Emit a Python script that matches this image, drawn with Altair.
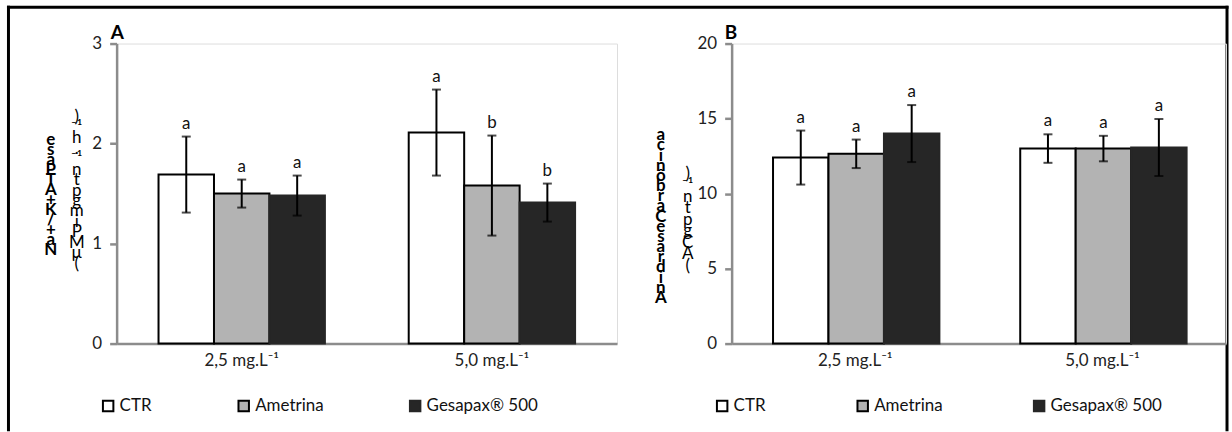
import altair as alt
import pandas as pd

# ---------------- data ----------------
concentrations = ["2,5 mg.L⁻¹", "5,0 mg.L⁻¹"]
treatments = ["CTR", "Ametrina", "Gesapax® 500"]
fill_colors = ["#ffffff", "#b3b3b3", "#262626"]
stroke_colors = ["#000000", "#000000", "#262626"]

# Panel A : Na+/K+ ATPase
a_mean_25 = [1.69, 1.50, 1.48]
a_err_25 = [0.38, 0.14, 0.20]
a_let_25 = ["a", "a", "a"]
a_mean_50 = [2.11, 1.58, 1.41]
a_err_50 = [0.43, 0.50, 0.19]
a_let_50 = ["a", "b", "b"]
a_ticks = [0, 1, 2, 3]

# Panel B : Anidrase Carbônica
b_mean_25 = [12.40, 12.65, 14.00]
b_err_25 = [1.80, 0.95, 1.90]
b_let_25 = ["a", "a", "a"]
b_mean_50 = [13.00, 13.00, 13.07]
b_err_50 = [0.95, 0.85, 1.90]
b_let_50 = ["a", "a", "a"]
b_ticks = [0, 5, 10, 15, 20]

# stacked (upright) y-axis titles, read bottom to top
a_title_bold = ["N", "a", "+", "/", "K", "+", "A", "T", "P", "a", "s", "e"]
a_title_unit = ["(", "µ", "M", "P", "i", "m", "g", "p", "t", "n", "⁻¹", ".", "h", "⁻¹", ")"]
b_title_bold = list("AnidraseCarbônica")
b_title_unit = ["(", "A", "C", "g", "p", "t", "n", "⁻¹", ")"]

FONT = "Lato"
AXIS_GRAY = "#8c8c8c"
one = pd.DataFrame({"k": [0]})


def panel(label, mean25, err25, let25, mean50, err50, let50, ticks, ymax,
          bold_lines, unit_lines, width, geo, legend_x, col_pad):
    rows = []
    for c, means, errs, lets in [(concentrations[0], mean25, err25, let25),
                                 (concentrations[1], mean50, err50, let50)]:
        for t, m, e, l in zip(treatments, means, errs, lets):
            rows.append(dict(conc=c, trt=t, mean=m, lo=m - e, hi=m + e, letter=l))
    df = pd.DataFrame(rows)

    xs = alt.Scale(paddingInner=0.335, paddingOuter=0.1675)
    xax = alt.Axis(title=None, labelAngle=0, ticks=False, labelPadding=9)
    x = alt.X("conc:N", sort=concentrations, scale=xs, axis=xax)
    xo = alt.XOffset("trt:N", sort=treatments,
                     scale=alt.Scale(paddingInner=0, paddingOuter=0))
    ys = alt.Scale(domain=[0, ymax], nice=False)
    yax = alt.Axis(title=None, values=ticks, grid=False, format="d")

    base = alt.Chart(df)
    bars = base.mark_bar(strokeWidth=2).encode(
        x=x, xOffset=xo,
        y=alt.Y("mean:Q", scale=ys, axis=yax),
        fill=alt.Fill("trt:N", sort=treatments,
                      scale=alt.Scale(domain=treatments, range=fill_colors),
                      legend=alt.Legend(title=None, orient="none", legendX=legend_x,
                                        legendY=355, direction="horizontal",
                                        symbolType="square", symbolSize=110,
                                        symbolStrokeColor="black", symbolStrokeWidth=2,
                                        labelFontSize=17, labelFont=FONT,
                                        labelColor="#111", labelOffset=3,
                                        columnPadding=col_pad)),
        stroke=alt.Stroke("trt:N", sort=treatments,
                          scale=alt.Scale(domain=treatments, range=stroke_colors),
                          legend=None),
    )
    err = base.mark_rule(color="black", strokeWidth=2).encode(
        x=x, xOffset=xo, y=alt.Y("lo:Q", scale=ys, axis=yax), y2="hi:Q")
    cap_hi = base.mark_tick(color="black", thickness=2, size=9).encode(
        x=x, xOffset=xo, y=alt.Y("hi:Q", scale=ys, axis=yax))
    cap_lo = base.mark_tick(color="black", thickness=2, size=9).encode(
        x=x, xOffset=xo, y=alt.Y("lo:Q", scale=ys, axis=yax))
    letters = base.mark_text(baseline="alphabetic", dy=-8, fontSize=17,
                             font=FONT, color="#111").encode(
        x=x, xOffset=xo, y=alt.Y("hi:Q", scale=ys, axis=yax), text="letter:N")

    tag = alt.Chart(one).mark_text(text=label, fontWeight="bold", fontSize=19,
                                   font=FONT, align="left",
                                   baseline="alphabetic", color="black").encode(
        x=alt.value(geo["tag_x"]), y=alt.value(-5))

    tb = alt.Chart(pd.DataFrame({"t": ["\n".join(reversed(bold_lines))]})).mark_text(
        lineBreak="\n", lineHeight=geo["bold_lh"], fontWeight="bold", fontSize=17,
        font=FONT, align="center", baseline="top", color="black").encode(
        x=alt.value(geo["bold_x"]), y=alt.value(geo["bold_y"]), text="t:N")
    tu = alt.Chart(pd.DataFrame({"t": ["\n".join(reversed(unit_lines))]})).mark_text(
        lineBreak="\n", lineHeight=geo["unit_lh"], fontSize=17,
        font=FONT, align="center", baseline="top", color="black").encode(
        x=alt.value(geo["unit_x"]), y=alt.value(geo["unit_y"]), text="t:N")

    layers = [bars, err, cap_hi, cap_lo, letters, tag, tb, tu]
    return alt.layer(*layers).properties(width=width, height=301)


left = panel("A", a_mean_25, a_err_25, a_let_25, a_mean_50, a_err_50, a_let_50,
             a_ticks, 3, a_title_bold, a_title_unit, 502,
             dict(tag_x=-6, bold_x=-66, bold_y=89, bold_lh=10,
                  unit_x=-40, unit_y=66, unit_lh=10.5),
             legend_x=-17, col_pad=82)

right = panel("B", b_mean_25, b_err_25, b_let_25, b_mean_50, b_err_50, b_let_50,
              b_ticks, 20, b_title_bold, b_title_unit, 496,
              dict(tag_x=-7, bold_x=-71, bold_y=84, bold_lh=10.2,
                   unit_x=-44, unit_y=123, unit_lh=11.5),
              legend_x=-18, col_pad=87)

# outer frame of the figure (drawn in the left panel's coordinates)
frame = [
    alt.Chart(one).mark_rule(color="black", strokeWidth=3).encode(
        x=alt.value(-108.5), y=alt.value(-38), y2=alt.value(389)),
    alt.Chart(one).mark_rule(color="black", strokeWidth=3).encode(
        x=alt.value(1114), y=alt.value(-38), y2=alt.value(389)),
    alt.Chart(one).mark_rule(color="black", strokeWidth=3).encode(
        x=alt.value(-110), x2=alt.value(1115.5), y=alt.value(-36.5)),
]
left = alt.layer(left, *frame)

chart = alt.hconcat(left, right, spacing=115, bounds="flush").resolve_scale(
    x="independent", y="independent", fill="independent", stroke="independent"
).properties(
    padding={"left": 5, "top": 3, "right": 1, "bottom": 0}
).configure_view(strokeWidth=0).configure(font=FONT).configure_axis(
    labelFont=FONT, labelFontSize=17, labelColor="#222",
    domainColor=AXIS_GRAY, domainWidth=2.5,
    tickColor=AXIS_GRAY, tickWidth=2.5, tickSize=7, labelPadding=8,
)

chart.save("out.html", embed_options={"renderer": "svg", "actions": False})
